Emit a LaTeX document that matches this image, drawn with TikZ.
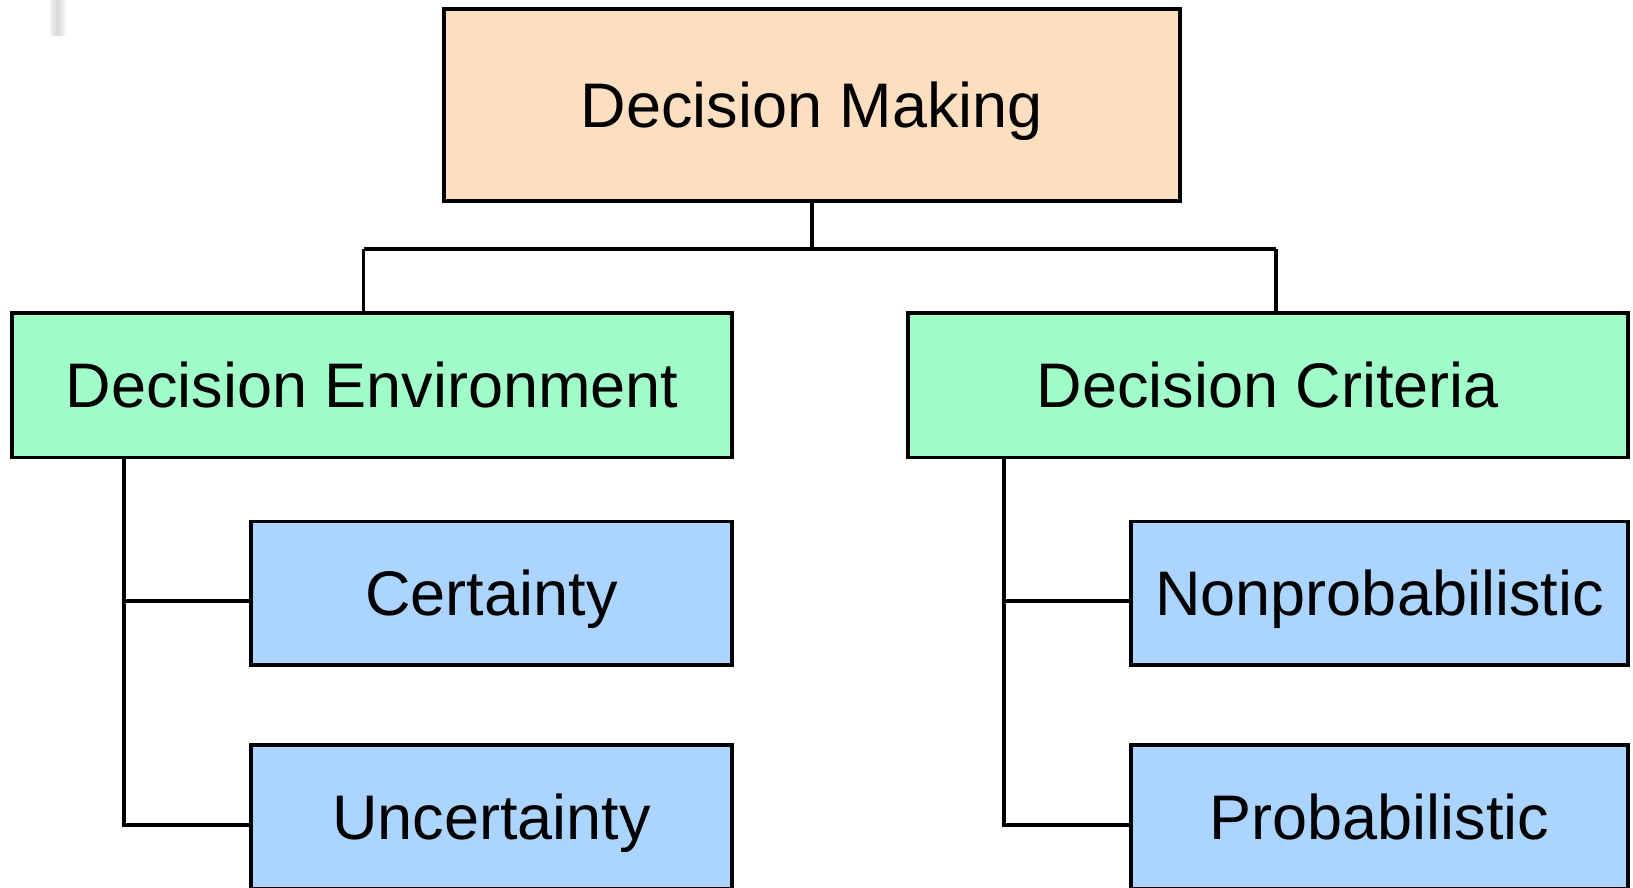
\documentclass[tikz,border=0pt]{standalone}
\usepackage{fontspec}
\setmainfont{Liberation Sans}
\begin{document}
\begin{tikzpicture}[x=1pt,y=-1pt,
  box/.style={draw=black, line width=3.5pt, rectangle, inner sep=0pt, outer sep=0pt,
    font=\fontsize{63}{75}\selectfont, text height=45pt, text depth=0pt},
  rootbox/.style={box, fill=rootfill, minimum width=736pt, minimum height=192pt},
  groupbox/.style={box, fill=groupfill, minimum width=720pt, minimum height=144.5pt},
  leafbox/.style={box, fill=leaffill, minimum height=143.5pt},
  link/.style={draw=black, line width=3.5pt}]
\definecolor{rootfill}{HTML}{FCDFC0}
\definecolor{groupfill}{HTML}{A0FDC9}
\definecolor{leaffill}{HTML}{ABD5FF}
\useasboundingbox (0,0) rectangle (1633,887);
\clip (0,0) rectangle (1633,887);

% faint grey tab in the corner
\shade[left color=gray!8, right color=gray!8, middle color=gray!30] (50,0) rectangle (65,35);

% boxes
\node[rootbox] (root) at (812,105) {Decision Making};
\node[groupbox] (env) at (372,385) {Decision Environment};
\node[groupbox] (crit) at (1268,385) {Decision Criteria};
\node[leafbox, minimum width=481pt] (cert) at (491.5,593) {Certainty};
\node[leafbox, minimum width=481pt] (unc) at (491.5,816.5) {Uncertainty};
\node[leafbox, minimum width=497pt] (nonp) at (1379.5,593) {Nonprobabilistic};
\node[leafbox, minimum width=497pt] (prob) at (1379.5,816.5) {Probabilistic};

% tree connectors
\coordinate (jl) at (363.5,249);
\coordinate (jr) at (1276,249);
\coordinate (sl) at (124,0);
\coordinate (sr) at (1004,0);
\coordinate (certIn) at ([yshift=-8pt]cert.west);
\coordinate (uncIn) at ([yshift=-8.5pt]unc.west);
\coordinate (nonpIn) at ([yshift=-8pt]nonp.west);
\coordinate (probIn) at ([yshift=-8.5pt]prob.west);
\draw[link] (root.south) -- (root.south |- jl);
\draw[link] (jl) -- (jr);
\draw[link] (jl) -- (jl |- env.north);
\draw[link] (jr) -- (jr |- crit.north);
\draw[link] (env.south -| sl) |- (uncIn);
\draw[link] (certIn) -- (certIn -| sl);
\draw[link] (crit.south -| sr) |- (probIn);
\draw[link] (nonpIn) -- (nonpIn -| sr);
\end{tikzpicture}
\end{document}
